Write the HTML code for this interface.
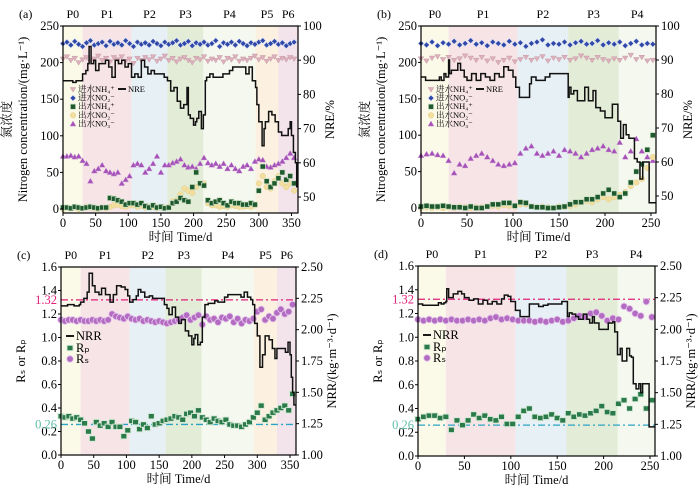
<!DOCTYPE html>
<html><head><meta charset="utf-8"><style>
body{margin:0;background:#fff}
svg{display:block}
text{font-family:"Liberation Serif","Noto Serif CJK SC",serif}
</style></head><body>
<svg id="chart" width="700" height="490" viewBox="0 0 700 490" xmlns="http://www.w3.org/2000/svg"></svg>
<script>
// ---------- data ----------
const daysA = [0,6,12,18,24,30,36,42,48,54,60,66,72,78,84,90,96,102,108,114,120,126,132,138,144,150,156,162,168,174,180,186,192,198,204,210,216,222,228,234,240,246,252,258,264,270,276,282,288,294,300,306,312,318,324,330,336,342,348,354];
const infNO2A = [226,228,224,229,225,222,227,230,224,226,228,223,229,225,227,224,230,226,222,228,225,227,224,229,226,223,228,225,227,230,224,226,229,223,227,225,228,224,226,230,222,227,225,228,224,229,226,223,227,225,228,230,224,226,229,225,227,223,226,228];
const infNH4A = [205,208,203,206,200,204,207,202,205,209,203,206,201,207,204,208,202,205,199,206,203,207,204,208,202,205,209,203,206,201,205,207,203,200,206,204,208,202,205,203,207,201,206,204,208,202,205,203,206,209,204,207,202,205,208,203,206,204,207,205];
const effNO3A = [72,72,73,71,72,66,62,38,52,55,60,52,50,48,50,35,40,45,60,62,60,50,55,62,72,50,60,60,63,65,68,60,57,58,55,62,70,63,60,62,58,62,55,60,55,52,58,60,55,65,68,67,58,57,60,62,65,70,76,70];
const effNH4A = [2,2,1,3,2,1,2,3,2,1,2,2,15,14,12,10,6,8,8,6,8,4,2,5,2,3,1,2,8,10,15,12,10,30,50,35,32,12,8,10,12,8,5,10,8,8,6,6,8,6,25,58,38,30,35,42,50,40,45,35];
const effNO2A = [0,2,1,2,0,1,3,2,1,0,2,1,3,5,6,4,3,5,5,3,4,2,3,3,1,2,2,3,10,12,20,28,25,22,30,35,35,8,5,5,3,4,3,5,4,3,3,4,3,5,35,45,30,28,38,45,35,30,35,25];
const nreDaysA = [0,15,20,30,35,38,40,43,47,50,55,65,70,75,80,85,90,95,100,105,110,115,120,125,130,135,140,155,160,165,170,175,180,185,190,192,195,200,203,205,208,212,215,218,220,225,230,245,255,260,270,280,285,290,295,297,300,305,308,310,315,320,325,330,335,345,348,350,353,356,358,360];
const nreA = [84,83.5,84,86,87,89,94,89,90,87,89,90,88,85,90,89,90,88,89,85,86,85,90,88,86,87,86,85,84,81,82,78,76,77,82,74,73,71,72,73,75,70,74,84,85,86,85,86,87,88,88,86,88,84,82,77,72,65,70,72,75,74,72,69,68,70,72,68,63,60,53,53];

const daysB = [0,6,12,18,24,30,36,42,48,54,60,66,72,78,84,90,96,102,108,114,120,126,132,138,144,150,156,162,168,174,180,186,192,198,204,210,216,222,228,234,240,246,252];
const infNO2B = [226,224,228,223,227,225,229,224,226,230,225,227,223,228,226,224,229,225,227,222,226,228,231,224,226,225,228,224,227,229,225,226,230,224,227,225,228,223,226,229,224,226,225];
const infNH4B = [205,202,206,208,204,207,203,205,209,206,203,207,202,205,200,203,206,201,204,207,203,205,208,202,206,204,207,203,205,209,206,203,207,204,202,205,203,206,210,204,207,202,203];
const effNO3B = [72,74,75,73,72,65,48,60,58,68,72,75,70,65,60,58,60,62,75,82,85,75,72,75,78,72,80,78,75,70,75,80,82,85,80,78,90,70,78,95,78,70,65];
const effNH4B = [2,3,2,2,3,2,1,1,0,2,0,0,2,5,5,7,7,3,8,7,2,1,1,0,0,1,2,5,8,8,12,12,15,20,25,20,15,20,35,50,60,80,100];
const effNO2B = [0,1,0,1,0,1,0,2,1,0,1,1,2,3,2,4,3,2,5,5,2,1,2,1,0,2,1,3,5,8,10,8,12,15,12,15,18,22,30,35,40,55,70];
const nreDaysB = [0,5,20,22,25,27,30,31,33,40,43,47,50,55,60,65,70,75,80,85,90,95,100,103,107,110,118,120,125,130,135,140,160,161,163,166,170,172,178,182,187,190,195,200,208,212,214,217,220,223,226,230,232,235,238,241,245,248,255];
const nreB = [85,84,85,84,86,85,90,86,87,89,87,85,84,86,84,86,85,84,86,85,88,87,85,82,79,79,83,85,84,84,85,86,79,82,80,81,78,78,82,78,81,76,75,73,77,77,72,67,71,68,67,67,61,60,55,60,60,48,48];

const rsC = [1.15,1.14,1.15,1.15,1.14,1.15,1.14,1.14,1.15,1.14,1.15,1.14,1.15,1.20,1.18,1.17,1.16,1.18,1.16,1.15,1.16,1.14,1.15,1.14,1.13,1.14,1.13,1.12,1.13,1.14,1.15,1.17,1.19,1.15,1.17,1.19,1.11,1.18,1.15,1.16,1.13,1.17,1.16,1.18,1.13,1.16,1.12,1.15,1.14,1.16,1.22,1.24,1.15,1.18,1.16,1.21,1.24,1.20,1.22,1.28];
const rpC = [0.33,0.32,0.33,0.31,0.32,0.30,0.27,0.20,0.14,0.28,0.25,0.27,0.24,0.28,0.24,0.24,0.16,0.21,0.29,0.28,0.22,0.26,0.23,0.33,0.26,0.27,0.29,0.30,0.31,0.33,0.32,0.30,0.35,0.36,0.33,0.38,0.32,0.30,0.28,0.31,0.29,0.28,0.30,0.26,0.25,0.25,0.24,0.26,0.28,0.32,0.36,0.42,0.30,0.33,0.36,0.38,0.40,0.42,0.38,0.52];
const nrrDaysC = [0,10,20,28,30,35,40,43,48,52,58,62,68,75,80,85,92,98,102,105,110,115,118,122,128,135,140,150,158,162,165,170,175,180,184,190,195,200,203,205,209,213,216,220,225,235,240,250,255,265,275,280,285,290,293,296,300,304,308,312,318,323,327,330,340,343,347,350,352,354,356,360];
const nrrC = [2.19,2.20,2.19,2.20,2.22,2.25,2.30,2.45,2.35,2.30,2.28,2.33,2.28,2.22,2.28,2.35,2.34,2.32,2.27,2.22,2.24,2.27,2.32,2.30,2.26,2.27,2.25,2.25,2.20,2.17,2.12,2.18,2.10,2.05,2.08,1.99,1.95,1.88,1.93,1.96,1.88,1.90,2.10,2.20,2.21,2.23,2.22,2.26,2.28,2.28,2.26,2.30,2.26,2.24,2.20,2.05,1.95,1.70,1.80,1.95,1.92,1.85,1.77,1.85,1.85,1.82,1.90,1.80,1.62,1.50,1.40,1.40];

const rsD = [1.15,1.14,1.15,1.14,1.15,1.14,1.15,1.14,1.14,1.15,1.14,1.15,1.14,1.16,1.17,1.15,1.16,1.15,1.14,1.14,1.14,1.13,1.14,1.13,1.14,1.15,1.13,1.14,1.16,1.18,1.17,1.20,1.21,1.18,1.14,1.16,1.15,1.26,1.24,1.20,1.18,1.30,1.17];
const rpD = [0.31,0.33,0.34,0.34,0.32,0.33,0.22,0.30,0.26,0.30,0.35,0.32,0.34,0.31,0.30,0.33,0.27,0.27,0.33,0.38,0.40,0.33,0.32,0.33,0.35,0.32,0.30,0.36,0.33,0.35,0.34,0.36,0.38,0.42,0.37,0.36,0.44,0.47,0.40,0.48,0.52,0.40,0.47];
const nrrDaysD = [0,5,15,22,25,28,30,31,33,38,43,47,50,55,60,65,70,75,80,85,90,93,97,100,105,110,117,120,125,130,135,140,145,155,160,161,163,166,170,173,178,182,185,188,190,195,200,205,210,212,215,218,220,225,228,230,232,235,238,240,242,247,249,255];
const nrrD = [2.20,2.19,2.19,2.21,2.20,2.21,2.22,2.32,2.25,2.28,2.30,2.28,2.25,2.23,2.24,2.20,2.23,2.20,2.22,2.20,2.24,2.27,2.26,2.22,2.15,2.10,2.10,2.20,2.20,2.18,2.19,2.20,2.20,2.22,2.22,2.10,2.13,2.12,2.10,2.08,2.12,2.08,2.05,2.10,2.05,2.00,2.00,2.05,2.06,1.98,1.80,1.85,1.75,1.85,1.79,1.78,1.57,1.53,1.57,1.50,1.57,1.57,1.23,1.23];

const phasesA = ["P0","P1","P2","P3","P4","P5","P6"];
const phaseStartA = [0,30,105,160,215,295,330];
const phaseEndA = [30,105,160,215,295,330,360];
const phasesB = ["P0","P1","P2","P3","P4"];
const phaseStartB = [0,30,105,160,215];
const phaseEndB = [30,105,160,215,255];
const phaseColors = ["#fbf9e8","#f6e4e6","#e7f0f5","#e3ecd6","#f5f8ee","#fcf1e0","#f3e4ec"];

// ---------- helpers ----------
const NS = "http://www.w3.org/2000/svg";
const svg = document.getElementById("chart");
const FONT = "'Liberation Serif','Noto Serif CJK SC',serif";
function mk(tag, attrs, parent, text){
  const e = document.createElementNS(NS, tag);
  if (tag === "text") e.setAttribute("font-family", FONT);
  for (const k in attrs) e.setAttribute(k, attrs[k]);
  if (text !== undefined) e.textContent = text;
  (parent || svg).appendChild(e);
  return e;
}
function lin(d0,d1,r0,r1){ return v => r0 + (v-d0)*(r1-r0)/(d1-d0); }

function panel(cfg){
  const g = mk("g", {});
  
  
  const {x0,x1,yT,yB,xs} = cfg;
  cfg.phases.forEach((p,i)=>{
    const r = mk("rect",{x:xs(cfg.ps[i]),y:yT,width:xs(cfg.pe[i])-xs(cfg.ps[i]),height:yB-yT,fill:phaseColors[i]},g);
    
    
    const t = mk("text",{x:(xs(cfg.ps[i])+xs(cfg.pe[i]))/2,y:yT-8,"font-size":12,"text-anchor":"middle"},g,p);
    
    
  });
  const pl = mk("text",{x:x0-44,y:yT-8,"font-size":12},g,cfg.label);
  
  
  return g;
}
function frame(g,cfg){
  const {x0,x1,yT,yB,xs,yl,yr} = cfg;
  mk("rect",{x:x0,y:yT,width:x1-x0,height:yB-yT,fill:"none",stroke:"#000","stroke-width":1.2},g);
  cfg.xt.forEach(v=>{
    mk("line",{x1:xs(v),x2:xs(v),y1:yB,y2:yB+3,stroke:"#000"},g);
    const t = mk("text",{x:xs(v),y:yB+14,"font-size":12.5,"text-anchor":"middle"},g,String(v));
    
    
  });
  cfg.ylt.forEach((v,i)=>{
    mk("line",{x1:x0-3,x2:x0,y1:yl(v),y2:yl(v),stroke:"#000"},g);
    const t = mk("text",{x:x0-4,y:yl(v)+4,"font-size":12.5,"text-anchor":"end"},g,cfg.yltl[i]);
    
    
  });
  cfg.yrt.forEach((v,i)=>{
    mk("line",{x1:x1,x2:x1+3,y1:yr(v),y2:yr(v),stroke:"#000"},g);
    const t = mk("text",{x:x1+5,y:yr(v)+4,"font-size":12.5},g,cfg.yrtl[i]);
    
    
  });
  const xt = mk("text",{x:(x0+x1)/2,y:yB+28,"font-size":12.5,"text-anchor":"middle"},g,"时间 Time/d");
  
  
}
function stepPath(g,days,vals,xs,ys,name){
  let d = "M"+xs(days[0])+","+ys(vals[0]);
  for (let i=1;i<days.length;i++){ d += " H"+xs(days[i])+" V"+ys(vals[i]); }
  const p = mk("path",{d:d,fill:"none",stroke:"#111","stroke-width":1.5},g);
  
  
}
function marker(g,type,x,y,name){
  let e;
  if (type==="tri-down") e = mk("path",{d:`M${x-2.8},${y-2} L${x+2.8},${y-2} L${x},${y+2.6} Z`,fill:"#dcb0bc",stroke:"#c89aa6","stroke-width":0.5},g);
  else if (type==="diamond") e = mk("path",{d:`M${x},${y-3} L${x+3},${y} L${x},${y+3} L${x-3},${y} Z`,fill:"#3049a8",stroke:"#dfe4f5","stroke-width":0.6},g);
  else if (type==="square") e = mk("rect",{x:x-2.6,y:y-2.6,width:5.2,height:5.2,fill:"#1f5a2e",stroke:"#cfe2c8","stroke-width":0.7},g);
  else if (type==="circle-y") e = mk("circle",{cx:x,cy:y,r:2.8,fill:"#f2de9e",stroke:"#e6cf86","stroke-width":0.5},g);
  else if (type==="tri-up") e = mk("path",{d:`M${x-3},${y+2.2} L${x+3},${y+2.2} L${x},${y-3} Z`,fill:"#a552b8",stroke:"#cf9fd9","stroke-width":0.4},g);
  else if (type==="circle-p") e = mk("circle",{cx:x,cy:y,r:3.3,fill:"#b36cc2",stroke:"#e6c9ec","stroke-width":0.8},g);
  else if (type==="square-g") e = mk("rect",{x:x-3,y:y-2.7,width:6,height:5.4,fill:"#2a7a4a",stroke:"#d6ead8","stroke-width":0.9},g);
  
  
  return e;
}
function series(g,type,days,vals,xs,ys,name){
  days.forEach((d,i)=>{ marker(g,type,xs(d),ys(vals[i]),name); });
}
function ytitles(g,cfg,lines){
  const cy=(cfg.yT+cfg.yB)/2;
  lines.forEach(l=>{
    const t = mk("text",{x:l.x,y:cy,"font-size":l.fs||12.5,"text-anchor":"middle",transform:`rotate(-90 ${l.x} ${cy})`},g,l.t);
    
    
  });
}
function legendText(g,x,y,txt,name){
  const t = mk("text",{x:x,y:y,"font-size":8.5},g,txt);
  
  
  return t;
}

// ---------- panel (a) / (b) ----------
function concPanel(cfg, d){
  const g = panel(cfg);
  const {xs,yl,yr} = cfg;
  series(g,"tri-down",d.days,d.infNH4,xs,yl,"influent-nh4-point");
  series(g,"diamond",d.days,d.infNO2,xs,yl,"influent-no2-point");
  series(g,"tri-up",d.days,d.effNO3,xs,yl,"effluent-no3-point");
  series(g,"circle-y",d.days,d.effNO2,xs,yl,"effluent-no2-point");
  series(g,"square",d.days,d.effNH4,xs,yl,"effluent-nh4-point");
  stepPath(g,d.nreDays,d.nre,xs,yr,"nre-line");
  frame(g,cfg);
  ytitles(g,cfg,[{x:cfg.x0-52,t:"氮浓度",n:"left-y-axis-title-cn"},{x:cfg.x0-36,t:"Nitrogen concentration/(mg·L⁻¹)",n:"left-y-axis-title"},{x:cfg.x1+36,t:"NRE/%",n:"right-y-axis-title"}]);
  const lx = cfg.x0+10, ly = 92;
  const items = [["tri-down","进水NH₄⁺"],["diamond","进水NO₂⁻"],["square","出水NH₄⁺"],["circle-y","出水NO₂⁻"],["tri-up","出水NO₃⁻"]];
  items.forEach((it,i)=>{
    const y = ly + i*8.6;
    marker(g,it[0],lx,y-2.5,"legend-marker");
    legendText(g,lx+5,y,it[1],"legend-entry");
  });
  mk("line",{x1:lx+45,x2:lx+53,y1:ly-3,y2:ly-3,stroke:"#000","stroke-width":1.8},g);
  legendText(g,lx+55,ly,"NRE","legend-entry-nre");
}
const cfgA = {name:"panel-a",label:"(a)",x0:63,x1:298,yT:26,yB:213,xs:lin(0,360,63,298),yl:lin(0,250,209,26),yr:lin(50,100,197,26),
  xt:[0,50,100,150,200,250,300,350],ylt:[0,50,100,150,200,250],yltl:["0","50","100","150","200","250"],yrt:[50,60,70,80,90,100],yrtl:["50","60","70","80","90","100"],
  phases:phasesA,ps:phaseStartA,pe:phaseEndA};
concPanel(cfgA,{days:daysA,infNH4:infNH4A,infNO2:infNO2A,effNO3:effNO3A,effNO2:effNO2A,effNH4:effNH4A,nreDays:nreDaysA,nre:nreA});
const cfgB = {name:"panel-b",label:"(b)",x0:421,x1:656,yT:26,yB:213,xs:lin(0,250,421,651),yl:lin(0,250,208,26),yr:lin(50,100,196,26),
  xt:[0,50,100,150,200,250],ylt:[0,50,100,150,200,250],yltl:["0","50","100","150","200","250"],yrt:[50,60,70,80,90,100],yrtl:["50","60","70","80","90","100"],
  phases:phasesB,ps:phaseStartB,pe:phaseEndB};
concPanel(cfgB,{days:daysB,infNH4:infNH4B,infNO2:infNO2B,effNO3:effNO3B,effNO2:effNO2B,effNH4:effNH4B,nreDays:nreDaysB,nre:nreB});

// ---------- panel (c) / (d) ----------
function ratioPanel(cfg,d){
  const g = panel(cfg);
  const {xs,yl,yr,x0,x1} = cfg;
  const l1 = mk("line",{x1:x0,x2:x1,y1:yl(1.32),y2:yl(1.32),stroke:"#e0207a","stroke-width":1.3,"stroke-dasharray":"7 3 2 3"},g);
  
  
  const l2 = mk("line",{x1:x0,x2:x1,y1:yl(0.26),y2:yl(0.26),stroke:"#2aa4c4","stroke-width":1.3,"stroke-dasharray":"7 3 2 3"},g);
  
  
  series(g,"circle-p",d.days,d.rs,xs,yl,"rs-point");
  series(g,"square-g",d.days,d.rp,xs,yl,"rp-point");
  stepPath(g,d.nrrDays,d.nrr,xs,yr,"nrr-line");
  frame(g,cfg);
  const t1 = mk("text",{x:x0-4,y:yl(1.32)+4,"font-size":12.5,"text-anchor":"end",fill:"#e0207a"},g,"1.32");
  
  
  const t2 = mk("text",{x:x0-4,y:yl(0.26)+4,"font-size":12.5,"text-anchor":"end",fill:"#5fbfa8"},g,"0.26");
  
  
  ytitles(g,cfg,[{x:x0-36,t:"Rₛ or Rₚ",n:"left-y-axis-title"},{x:x1+40,t:"NRR/(kg·m⁻³·d⁻¹)",n:"right-y-axis-title"}]);
  const lx=x0+8, ly=cfg.yT+73;
  mk("line",{x1:lx-3,x2:lx+5,y1:ly-4,y2:ly-4,stroke:"#000","stroke-width":1.8},g);
  const a = mk("text",{x:lx+7,y:ly,"font-size":12.5},g,"NRR");  
  marker(g,"square-g",lx+1,ly+8,"legend-marker");
  const b = mk("text",{x:lx+7,y:ly+12,"font-size":12.5},g,"Rₚ");  
  marker(g,"circle-p",lx+1,ly+19,"legend-marker");
  const c = mk("text",{x:lx+7,y:ly+23,"font-size":12.5},g,"Rₛ");  
}
const cfgC = {name:"panel-c",label:"(c)",x0:61,x1:296,yT:267,yB:455,xs:lin(0,350,61,290),yl:lin(0,1.6,455,267),yr:lin(1,2.5,455,267),
  xt:[0,50,100,150,200,250,300,350],ylt:[0,0.2,0.4,0.6,0.8,1.0,1.2,1.4,1.6],yltl:["0.0","0.2","0.4","0.6","0.8","1.0","1.2","1.4","1.6"],
  yrt:[1,1.25,1.5,1.75,2,2.25,2.5],yrtl:["1.00","1.25","1.50","1.75","2.00","2.25","2.50"],phases:phasesA,ps:phaseStartA,pe:phaseEndA};
ratioPanel(cfgC,{days:daysA,rs:rsC,rp:rpC,nrrDays:nrrDaysC,nrr:nrrC});
const cfgD = {name:"panel-d",label:"(d)",x0:418,x1:655,yT:266,yB:456,xs:lin(0,250,418,650),yl:lin(0,1.6,456,266),yr:lin(1,2.5,456,266),
  xt:[0,50,100,150,200,250],ylt:[0,0.2,0.4,0.6,0.8,1.0,1.2,1.4,1.6],yltl:["0.0","0.2","0.4","0.6","0.8","1.0","1.2","1.4","1.6"],
  yrt:[1,1.25,1.5,1.75,2,2.25,2.5],yrtl:["1.00","1.25","1.50","1.75","2.00","2.25","2.50"],phases:phasesB,ps:phaseStartB,pe:phaseEndB};
ratioPanel(cfgD,{days:daysB,rs:rsD,rp:rpD,nrrDays:nrrDaysD,nrr:nrrD});
</script>
</body></html>
